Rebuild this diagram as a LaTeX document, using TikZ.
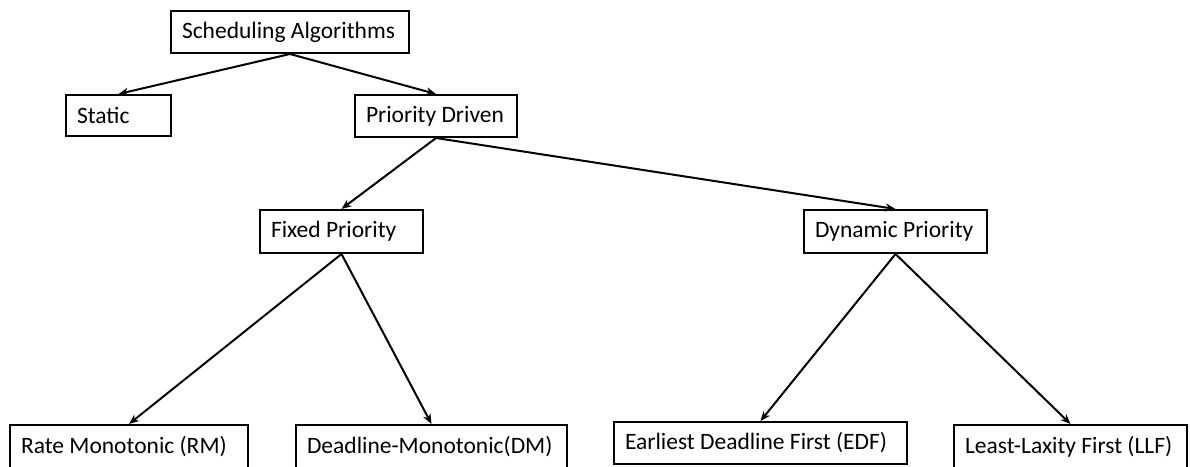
\documentclass[tikz,border=0pt]{standalone}
\usepackage{fontspec}
\setmainfont{Carlito}
\usetikzlibrary{arrows.meta}
\tikzset{
  box/.style={draw=black, line width=2pt, rectangle, anchor=north west,
    inner xsep=11pt, inner ysep=0pt, font=\fontsize{23.5}{27}\selectfont},
  conn/.style={draw=black, line width=2pt, -{Stealth[length=10pt,width=8pt]}}
}
\newcommand{\mybox}[6]{% name, x1, y1, W, H, text
  \node[box, minimum width=#4pt, minimum height=#5pt] (#1) at (#2pt,-#3pt) {\makebox[\dimexpr#4pt-22pt\relax][l]{#6}};}
\begin{document}
\begin{tikzpicture}
\useasboundingbox (0,0) rectangle (1190pt,-466pt);
\mybox{sa}{170}{10}{238}{42}{Scheduling Algorithms}
\mybox{st}{65}{94}{105}{41}{Static}
\mybox{pd}{354}{94}{162}{42}{Priority Driven}
\mybox{fp}{259}{209}{163}{43}{Fixed Priority}
\mybox{dp}{803}{209}{183}{43}{Dynamic Priority}
\mybox{rm}{9}{424}{238}{44}{Rate Monotonic (RM)}
\mybox{dm}{295}{424}{271}{44}{Deadline-Monotonic(DM)}
\mybox{edf}{613}{421}{293}{42}{Earliest Deadline First (EDF)}
\mybox{llf}{953}{424}{233}{44}{Least-Laxity First (LLF)}
\draw[conn] (sa.south) -- (st.north);
\draw[conn] (sa.south) -- (pd.north);
\draw[conn] (pd.south) -- (fp.north);
\draw[conn] (pd.south) -- (dp.north);
\draw[conn] (fp.south) -- (rm.north);
\draw[conn] (fp.south) -- (dm.north);
\draw[conn] (dp.south) -- (edf.north);
\draw[conn] (dp.south) -- (llf.north);
\end{tikzpicture}
\end{document}
